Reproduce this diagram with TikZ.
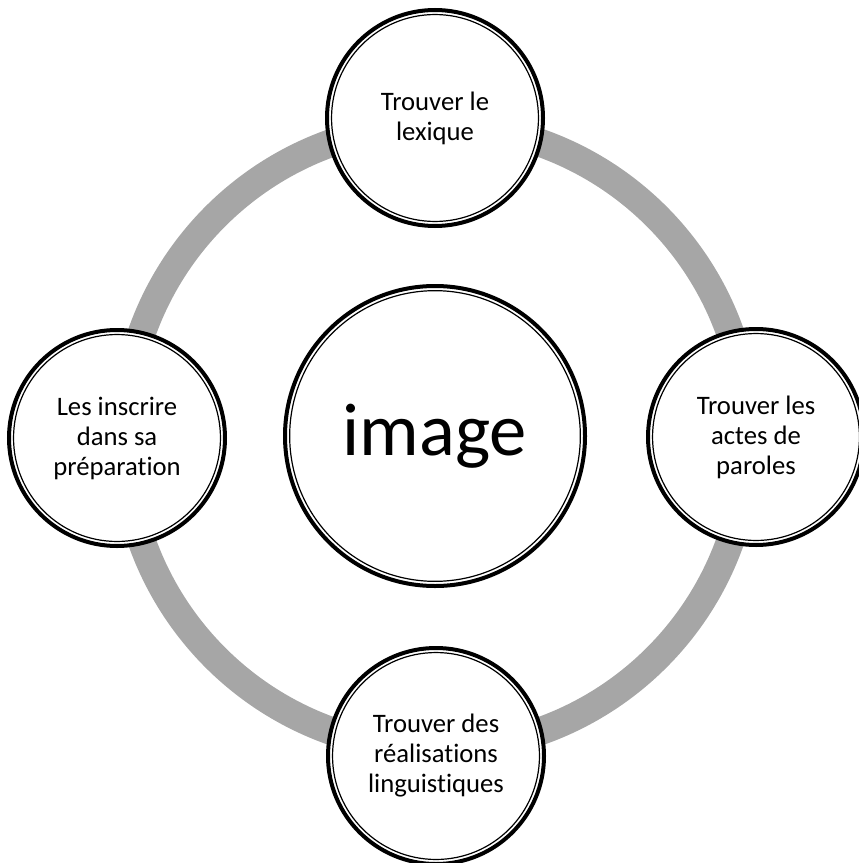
\documentclass[tikz,border=0pt]{standalone}
\usepackage{fontspec}
\setmainfont{Carlito}[Ligatures=NoCommon]
\usepackage{tikz}

\tikzset{
  cycnode/.style={circle, draw, line width=3pt, fill=white, inner sep=0pt,
    minimum size=162pt, align=center, font=\fontsize{20}{22.5}\selectfont,
    path picture={\draw[line width=0.9pt] (path picture bounding box.center) circle (77.6pt);}},
  hubnode/.style={circle, draw, line width=3pt, fill=white, inner sep=0pt,
    minimum size=225pt, align=center, font=\fontsize{56}{60}\selectfont,
    path picture={\draw[line width=0.9pt] (path picture bounding box.center) circle (109pt);}},
  cycline/.style={draw=black!35, line width=21pt}
}

\begin{document}
\begin{tikzpicture}[x=0.75pt,y=0.75pt,yscale=-1,xscale=1]
\path[use as bounding box, clip] (0,0) rectangle (859,863);

\coordinate (centre) at (436,437);

%Shape: Circle (grey ring)
\draw [cycline] (centre) circle (312);

%Shape: Circle (hub)
\draw (435,436) node [hubnode] (image) {image};

%Shape: Circle (around the ring)
\draw (435,118) node [cycnode] (lexique) {Trouver le\\lexique};
\draw (756,437) node [cycnode] (actes) {Trouver les\\actes de\\paroles};
\draw (436,756) node [cycnode] (realisations) {Trouver des\\réalisations\\linguistiques};
\draw (117,438) node [cycnode] (inscrire) {Les inscrire\\dans sa\\préparation};

\end{tikzpicture}
\end{document}
